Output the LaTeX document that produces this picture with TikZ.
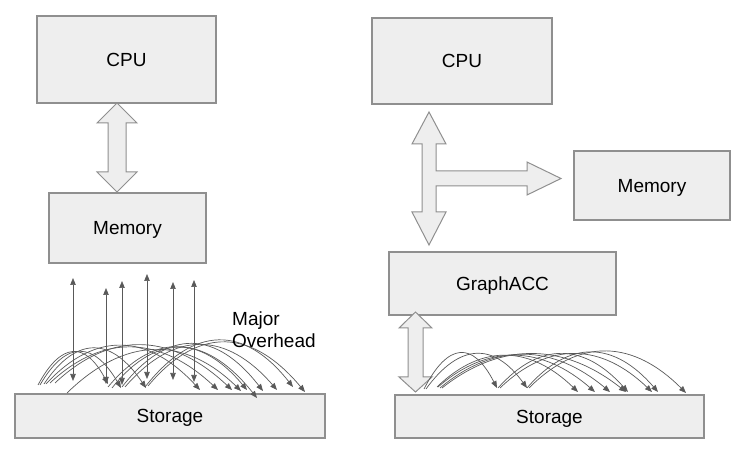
\documentclass[tikz,border=0pt]{standalone}
\usepackage{fontspec}
\setmainfont{Liberation Sans}
\usetikzlibrary{arrows.meta}
\definecolor{boxfill}{HTML}{EEEEEE}
\definecolor{boxline}{HTML}{8F8F8F}
\definecolor{arr}{HTML}{595959}
\begin{document}
\begin{tikzpicture}[x=1pt,y=-1pt,
  box/.style={draw=boxline,fill=boxfill,line width=1.1pt,inner sep=0pt,
    font=\fontsize{19}{23}\selectfont,text height=13.6pt,text depth=0pt},
  block/.style={draw=boxline,fill=boxfill,line width=1pt,line join=miter},
  link/.style={draw=arr,line width=0.7pt,-{Triangle[length=7pt,width=5.5pt]}},
  dlink/.style={draw=arr,line width=0.7pt,{Triangle[length=7pt,width=5.5pt]}-{Triangle[length=7pt,width=5.5pt]}},
  lbl/.style={inner sep=0pt,font=\fontsize{19}{22}\selectfont,align=left}]
\useasboundingbox (0,0) rectangle (753,462);

% ---------- left system ----------
\node[box,minimum width=179pt,minimum height=87pt] (cpuL) at (126.5,59.5) {CPU};
\node[box,minimum width=157pt,minimum height=70pt] (memL) at (127.5,228) {Memory};
\node[box,minimum width=310pt,minimum height=44pt] (stoL) at (170,416) {Storage};

% block double arrow CPU <-> Memory
\draw[block] (117,103) -- (137,123) -- (126,123) -- (126,172) -- (137,172) -- (117,192)
  -- (97,172) -- (108,172) -- (108,123) -- (97,123) -- cycle;

% vertical thin arrows
\foreach \x/\t/\b [count=\i] in {73/278/381, 106/288/384, 122/281/385, 147/274/379, 173/282/380, 194/280/382}{
  \coordinate (vt\i) at (\x,\t);
  \coordinate (vb\i) at (\x,\b);
  \draw[dlink] (vb\i) -- (vt\i);
}

% arcs (left)
\foreach \sx/\sy/\ex/\ey/\h [count=\i] in {
  38/385/108/384/43, 40/385/121/388/46, 44/384/146/388/50, 46/384/200/390/55,
  50/383/218/390/52, 55/383/232/390/55, 67/393/241/391/56, 108/387/247/390/55,
  112/388/257/398/60, 122/387/263/391/60, 125/387/277/390/58, 145/387/293/387/62,
  148/386/305/392/62}{
  \pgfmathsetmacro\a{0.33*(\ex-\sx)}
  \pgfmathsetmacro\b{0.33*(\ex-\sx)}
  \coordinate (ls\i) at (\sx,\sy);
  \coordinate (le\i) at (\ex,\ey);
  \draw[link] (ls\i) .. controls +(\a,-\h) and +(-\b,-\h) .. (le\i);
}

\node[lbl,anchor=north west] (ovh) at (232,311.5) {Major\\Overhead};

% ---------- right system ----------
\node[box,minimum width=180pt,minimum height=86pt] (cpuR) at (462,61) {CPU};
\node[box,minimum width=156pt,minimum height=69pt] (memR) at (652,185.5) {Memory};
\node[box,minimum width=227pt,minimum height=63pt] (gacc) at (502.5,283.5) {GraphACC};
\node[box,minimum width=309pt,minimum height=43pt] (stoR) at (549.5,416.5) {Storage};

% T-shaped block arrow
\draw[block] (429,112) -- (446,144) -- (436,144) -- (436,171) -- (527,171) -- (527,162)
  -- (561,178.5) -- (527,195) -- (527,186) -- (436,186) -- (436,212) -- (446,212)
  -- (429,245) -- (412,212) -- (422,212) -- (422,144) -- (412,144) -- cycle;

% block double arrow GraphACC <-> Storage
\draw[block] (415.5,312) -- (432,328) -- (423,328) -- (423,377) -- (432,377) -- (415.5,392)
  -- (399,377) -- (408,377) -- (408,328) -- (399,328) -- cycle;

% arcs (right)
\foreach \sx/\sy/\ex/\ey/\h [count=\i] in {
  424/389/497/388/47, 426/389/527/388/46, 437/387/578/392/45, 438/387/595/392/45,
  440/388/610/392/47, 442/388/626/392/48, 498/388/628/392/48, 500/388/652/392/48,
  527/388/658/392/50, 529/388/686/393/52}{
  \pgfmathsetmacro\a{0.33*(\ex-\sx)}
  \pgfmathsetmacro\b{0.33*(\ex-\sx)}
  \coordinate (rs\i) at (\sx,\sy);
  \coordinate (re\i) at (\ex,\ey);
  \draw[link] (rs\i) .. controls +(\a,-\h) and +(-\b,-\h) .. (re\i);
}
\end{tikzpicture}
\end{document}
